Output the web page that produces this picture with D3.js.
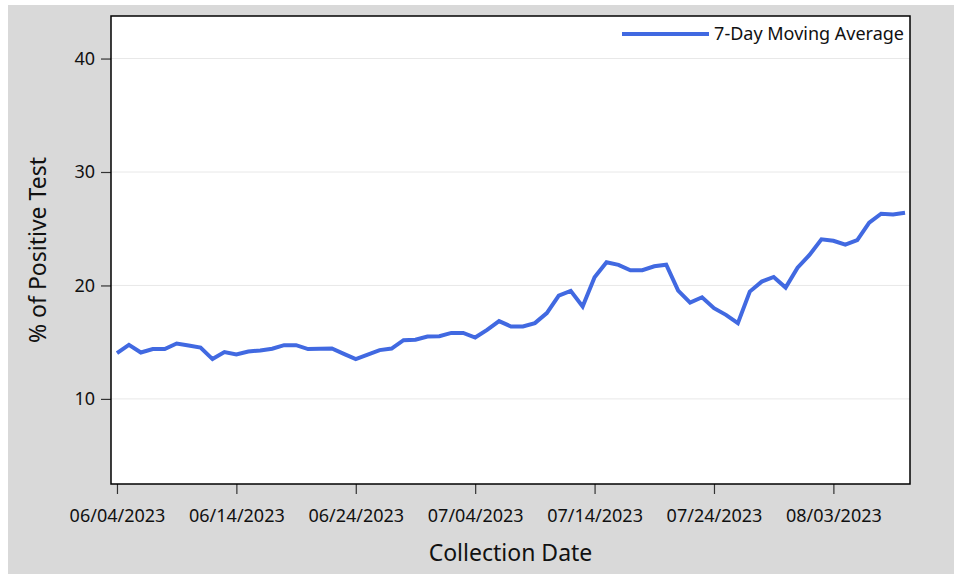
<!DOCTYPE html>
<html>
<head>
<meta charset="utf-8">
<script src="https://cdn.jsdelivr.net/npm/d3@7"></script>
<style>
  body { margin: 0; background: #ffffff; }
  svg { display: block; font-family: "Noto Sans", sans-serif; }
</style>
</head>
<body>
<svg width="954" height="575"></svg>
<script>
// Данные: первая дата ряда и значения 7-дневного скользящего среднего (по дням)
const startDate = "06/04/2023";
const movingAvg = [
    14.04, 14.77, 14.09, 14.39, 14.39, 14.88, 14.71, 14.53, 13.51, 14.13,
    13.92, 14.18, 14.27, 14.42, 14.74, 14.74, 14.39, 14.42, 14.44, 13.97,
    13.51, 13.90, 14.30, 14.44, 15.18, 15.21, 15.50, 15.53, 15.82, 15.82,
    15.41, 16.09, 16.86, 16.38, 16.38, 16.68, 17.56, 19.11, 19.52, 18.14,
    20.72, 22.04, 21.81, 21.34, 21.34, 21.69, 21.83, 19.55, 18.49, 18.96,
    18.00, 17.41, 16.68, 19.46, 20.34, 20.75, 19.81, 21.57, 22.69, 24.07,
    23.94, 23.59, 24.00, 25.53, 26.32, 26.26, 26.41
];
const yTicks = [10, 20, 30, 40];
const xTickLabels = ["06/04/2023", "06/14/2023", "06/24/2023", "07/04/2023",
                     "07/14/2023", "07/24/2023", "08/03/2023"];
const seriesName = "7-Day Moving Average";

const parseDate = d3.timeParse("%m/%d/%Y");
const fmtDate = d3.timeFormat("%m/%d/%Y");
const day0 = parseDate(startDate);
const data = movingAvg.map((v, i) => ({ date: d3.timeDay.offset(day0, i), value: v }));

const svg = d3.select("svg");

// Область графика
const area = { left: 111, right: 910, top: 16, bottom: 484 };

// Серый фон
svg.append("rect")
    .attr("x", 8).attr("y", 5)
    .attr("width", 946).attr("height", 569)
    .attr("fill", "#d9d9d9");

svg.append("rect")
    .attr("x", area.left).attr("y", area.top)
    .attr("width", area.right - area.left).attr("height", area.bottom - area.top)
    .attr("fill", "#ffffff");

// Шкалы
const first = data[0].date, last = data[data.length - 1].date;
const scX = d3.scaleTime()
    .domain([d3.timeHour.offset(first, -12), d3.timeHour.offset(last, 10)])
    .range([area.left, area.right]);

const scY = d3.scaleLinear()
    .domain([2.5, 43.75])
    .range([area.bottom, area.top]);

// Линии сетки
svg.append("g")
    .selectAll("line")
    .data(yTicks)
    .enter()
    .append("line")
    .attr("x1", area.left).attr("x2", area.right)
    .attr("y1", d => scY(d)).attr("y2", d => scY(d))
    .attr("stroke", "#e8e8e8")
    .attr("stroke-width", 1);

// Оси
const axisX = d3.axisBottom(scX)
    .tickValues(xTickLabels.map(parseDate))
    .tickFormat(fmtDate)
    .tickSize(10)
    .tickPadding(15);

const gx = svg.append("g")
    .attr("transform", `translate(0, ${area.bottom})`)
    .call(axisX);
gx.select(".domain").remove();
gx.selectAll(".tick line").attr("stroke", "#333").attr("stroke-width", 1.2);
gx.selectAll(".tick text")
    .attr("fill", "#111")
    .style("font-size", "18px")
    .style("font-family", "Noto Sans, sans-serif");

const axisY = d3.axisLeft(scY)
    .tickValues(yTicks)
    .tickSize(10)
    .tickPadding(6);

const gy = svg.append("g")
    .attr("transform", `translate(${area.left}, 0)`)
    .call(axisY);
gy.select(".domain").remove();
gy.selectAll(".tick line").attr("stroke", "#333").attr("stroke-width", 1.2);
gy.selectAll(".tick text")
    .attr("fill", "#111")
    .style("font-size", "18px")
    .style("font-family", "Noto Sans, sans-serif");

// Линия ряда
const line = d3.line()
    .x(d => scX(d.date))
    .y(d => scY(d.value));

svg.append("path")
    .datum(data)
    .attr("fill", "none")
    .attr("stroke", "#4169e1")
    .attr("stroke-width", 4)
    .attr("stroke-linejoin", "miter")
    .attr("d", line);

// Рамка
svg.append("rect")
    .attr("x", area.left).attr("y", area.top)
    .attr("width", area.right - area.left).attr("height", area.bottom - area.top)
    .attr("fill", "none")
    .attr("stroke", "#000")
    .attr("stroke-width", 1.5);

// Легенда
svg.append("line")
    .attr("x1", 622).attr("x2", 709)
    .attr("y1", 34).attr("y2", 34)
    .attr("stroke", "#4169e1")
    .attr("stroke-width", 4);

svg.append("text")
    .attr("x", 904).attr("y", 40)
    .attr("text-anchor", "end")
    .attr("fill", "#111")
    .style("font-size", "18px")
    .text(seriesName);

// Подписи осей
svg.append("text")
    .attr("x", (area.left + area.right) / 2)
    .attr("y", 561)
    .attr("text-anchor", "middle")
    .attr("fill", "#111")
    .style("font-size", "23px")
    .text("Collection Date");

svg.append("text")
    .attr("transform", `translate(46, ${(area.top + area.bottom) / 2}) rotate(-90)`)
    .attr("text-anchor", "middle")
    .attr("fill", "#111")
    .style("font-size", "23px")
    .text("% of Positive Test");
</script>
</body>
</html>
